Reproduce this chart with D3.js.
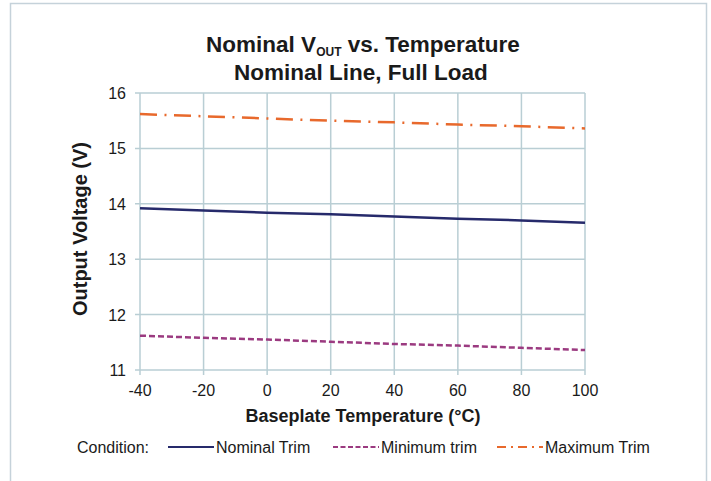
<!DOCTYPE html>
<html>
<head>
<meta charset="utf-8">
<script src="https://cdn.jsdelivr.net/npm/d3@7"></script>
<style>
  body { margin: 0; background: #fff; }
  text { font-family: "Liberation Sans", Arial, sans-serif; fill: #1a1a1a; }
</style>
</head>
<body>
<svg id="chart" width="711" height="481"></svg>
<script>
var temps = [-40, -20, 0, 20, 40, 60, 80, 100];
var nominalTrim = [13.92, 13.88, 13.84, 13.81, 13.77, 13.73, 13.70, 13.66];
var minimumTrim = [11.62, 11.58, 11.55, 11.51, 11.47, 11.44, 11.40, 11.36];
var maximumTrim = [15.62, 15.58, 15.54, 15.50, 15.47, 15.43, 15.40, 15.36];
var xTicks = [-40, -20, 0, 20, 40, 60, 80, 100];
var yTicks = [11, 12, 13, 14, 15, 16];

var series = [
  {name: "Nominal Trim", values: nominalTrim, color: "#262a6b", dash: null, legDash: null, lx: 168},
  {name: "Minimum trim", values: minimumTrim, color: "#9b3a80", dash: "6,3", legDash: "5,2.5", lx: 333},
  {name: "Maximum Trim", values: maximumTrim, color: "#e8692c", dash: "17,7.5,2,7.5", legDash: "9,5,2,5", lx: 497}
];

var svg = d3.select("#chart");

// outer frame
svg.append("path")
  .attr("d", "M10.5,481 L10.5,3.5 L706.5,3.5 L706.5,481")
  .attr("fill", "none")
  .attr("stroke", "#c5d2da")
  .attr("stroke-width", 1.5);

var x = d3.scaleLinear().domain([-40, 100]).range([140, 585]);
var y = d3.scaleLinear().domain([11, 16]).range([370, 93]);

var grid = "#b9ced4";

// grid lines
svg.selectAll(".vgrid").data(xTicks).enter().append("line")
  .attr("x1", function(d){ return x(d); })
  .attr("x2", function(d){ return x(d); })
  .attr("y1", y(16)).attr("y2", y(11) + 5)
  .attr("stroke", grid).attr("stroke-width", 1.5);

svg.selectAll(".hgrid").data(yTicks).enter().append("line")
  .attr("x1", x(-40) - 5).attr("x2", x(100))
  .attr("y1", function(d){ return y(d); })
  .attr("y2", function(d){ return y(d); })
  .attr("stroke", grid).attr("stroke-width", 1.5);

// tick labels
svg.selectAll(".xlab").data(xTicks).enter().append("text")
  .attr("x", function(d){ return x(d); })
  .attr("y", 396)
  .attr("text-anchor", "middle")
  .style("font-size", "16px")
  .text(function(d){ return d; });

svg.selectAll(".ylab").data(yTicks).enter().append("text")
  .attr("x", 126)
  .attr("y", function(d){ return y(d) + 6; })
  .attr("text-anchor", "end")
  .style("font-size", "16px")
  .text(function(d){ return d; });

// lines
var line = d3.line()
  .x(function(d, i){ return x(temps[i]); })
  .y(function(d){ return y(d); });

series.forEach(function(s){
  svg.append("path")
    .datum(s.values)
    .attr("d", line)
    .attr("fill", "none")
    .attr("stroke", s.color)
    .attr("stroke-width", 2.5)
    .attr("stroke-dasharray", s.dash);
});

// titles
var title = svg.append("text")
  .attr("x", 363).attr("y", 52)
  .attr("text-anchor", "middle")
  .style("font-size", "22.5px").style("font-weight", "bold");
title.append("tspan").text("Nominal V");
title.append("tspan").attr("dy", 4).style("font-size", "12px").text("OUT");
title.append("tspan").attr("dy", -4).text(" vs. Temperature");

svg.append("text")
  .attr("x", 361).attr("y", 80)
  .attr("text-anchor", "middle")
  .style("font-size", "22.5px").style("font-weight", "bold")
  .text("Nominal Line, Full Load");

svg.append("text")
  .attr("transform", "translate(87,229) rotate(-90)")
  .attr("text-anchor", "middle")
  .style("font-size", "20px").style("font-weight", "bold")
  .text("Output Voltage (V)");

svg.append("text")
  .attr("x", 363).attr("y", 422)
  .attr("text-anchor", "middle")
  .style("font-size", "18px").style("font-weight", "bold")
  .text("Baseplate Temperature (°C)");

// legend
svg.append("text")
  .attr("x", 77).attr("y", 453)
  .style("font-size", "16px")
  .text("Condition:");

series.forEach(function(s){
  svg.append("line")
    .attr("x1", s.lx).attr("x2", s.lx + 46)
    .attr("y1", 447).attr("y2", 447)
    .attr("stroke", s.color).attr("stroke-width", 2)
    .attr("stroke-dasharray", s.legDash);
  svg.append("text")
    .attr("x", s.lx + 48).attr("y", 453)
    .style("font-size", "16px")
    .text(s.name);
});
</script>
</body>
</html>
